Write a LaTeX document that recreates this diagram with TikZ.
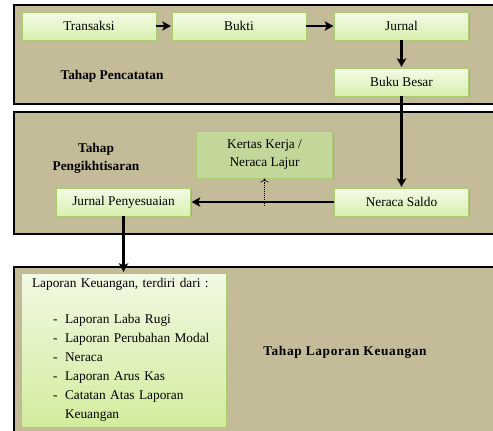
\documentclass[tikz,border=0pt]{standalone}
\usepackage{fontspec}
\setmainfont{Liberation Serif}
\usepackage{xcolor}
\usetikzlibrary{positioning, shadows, arrows.meta}

\definecolor{panelfill}{HTML}{C4BB98}
\definecolor{boxline}{HTML}{A9CC70}
\definecolor{boxtop}{HTML}{F4FBE8}
\definecolor{boxbottom}{HTML}{D8F0AE}
\definecolor{kertasfill}{HTML}{C4D79B}
\definecolor{reporttop}{HTML}{F1F9E3}
\definecolor{reportbottom}{HTML}{D2EC9D}

\newcommand{\reportitem}[1]{\hspace*{15.75pt}\makebox[9pt][l]{-}#1}

\begin{document}
\begin{tikzpicture}[
    x=0.75pt, y=-0.75pt,
    on grid,
    >={Stealth[length=6.5pt, width=7pt, inset=1.5pt]},
    font=\fontsize{10}{13.5}\selectfont,
    panel/.style={draw=black, line width=1.2pt, fill=panelfill},
    box/.style={draw=boxline, line width=0.6pt, top color=boxtop, bottom color=boxbottom,
        minimum width=100.5pt, minimum height=21pt, inner sep=2pt,
        drop shadow={shadow xshift=0.8pt, shadow yshift=-0.8pt, opacity=0.3}},
    kertas/.style={box, top color=kertasfill, bottom color=kertasfill,
        minimum width=102pt, minimum height=35.25pt, align=center},
    report/.style={box, top color=reporttop, bottom color=reportbottom,
        text width=137.25pt, inner xsep=8.25pt, minimum height=115.5pt,
        align=left, font=\fontsize{10}{14.25}\selectfont},
    stage/.style={font=\fontsize{10}{13.5}\selectfont\bfseries, align=center},
    every edge/.append style={line width=1.9pt, shorten >=0.5pt}
]
   \useasboundingbox (0,0) rectangle (493,430);
   \clip (0,0) rectangle (493,430);

   % Panels
   \draw[panel] (14,5) rectangle (505,104);
   \draw[panel] (14,112) rectangle (505,234);
   \draw[panel] (14,267) rectangle (505,445);

   % Boxes
   \node[box] (transaksi) at (89,26) {Transaksi};
   \node[box] (bukti) [right=112.5pt of transaksi] {Bukti};
   \node[box] (jurnal) [right=121.9pt of bukti] {Jurnal};
   \node[box] (bukubesar) [below=42pt of jurnal] {Buku Besar};
   \node[box] (neracasaldo) [below=90pt of bukubesar] {Neraca Saldo};
   \node[box] (jurnalpenyesuaian) [left=208.5pt of neracasaldo] {Jurnal Penyesuaian};
   \node[kertas] (kertaskerja) [above left=35.6pt and 102.75pt of neracasaldo] {Kertas Kerja /\\Neraca Lajur};
   \node[report] (laporan) [below=111pt of jurnalpenyesuaian] {Laporan Keuangan, terdiri dari :\\[12.75pt]
      \reportitem{Laporan Laba Rugi}\\
      \reportitem{Laporan Perubahan Modal}\\
      \reportitem{Neraca}\\
      \reportitem{Laporan Arus Kas}\\
      \reportitem{Catatan Atas Laporan}\\
      \hspace*{24.75pt}Keuangan};

   % Stage labels
   \node[stage] (pencatatan) at (112,76) {Tahap Pencatatan};
   \node[stage] (pengikhtisaran) at (96,158) {Tahap\\Pengikhtisaran};
   \node[stage] (laporanlabel) at (345,352) {\addfontfeature{LetterSpace=5}Tahap Laporan Keuangan};

   % Transitions
   \path[->]
   (transaksi) edge (bukti)
   (bukti) edge (jurnal)
   (jurnal) edge (bukubesar)
   (bukubesar) edge (neracasaldo)
   (neracasaldo) edge (jurnalpenyesuaian)
   (jurnalpenyesuaian) edge (laporan);

   \coordinate (kkfoot) at (kertaskerja.south |- neracasaldo.center);
   \draw[-{To[length=3pt]}, densely dotted, line width=0.45pt, shorten <=-2.5pt] (kkfoot) -- (kertaskerja.south);
\end{tikzpicture}
\end{document}
